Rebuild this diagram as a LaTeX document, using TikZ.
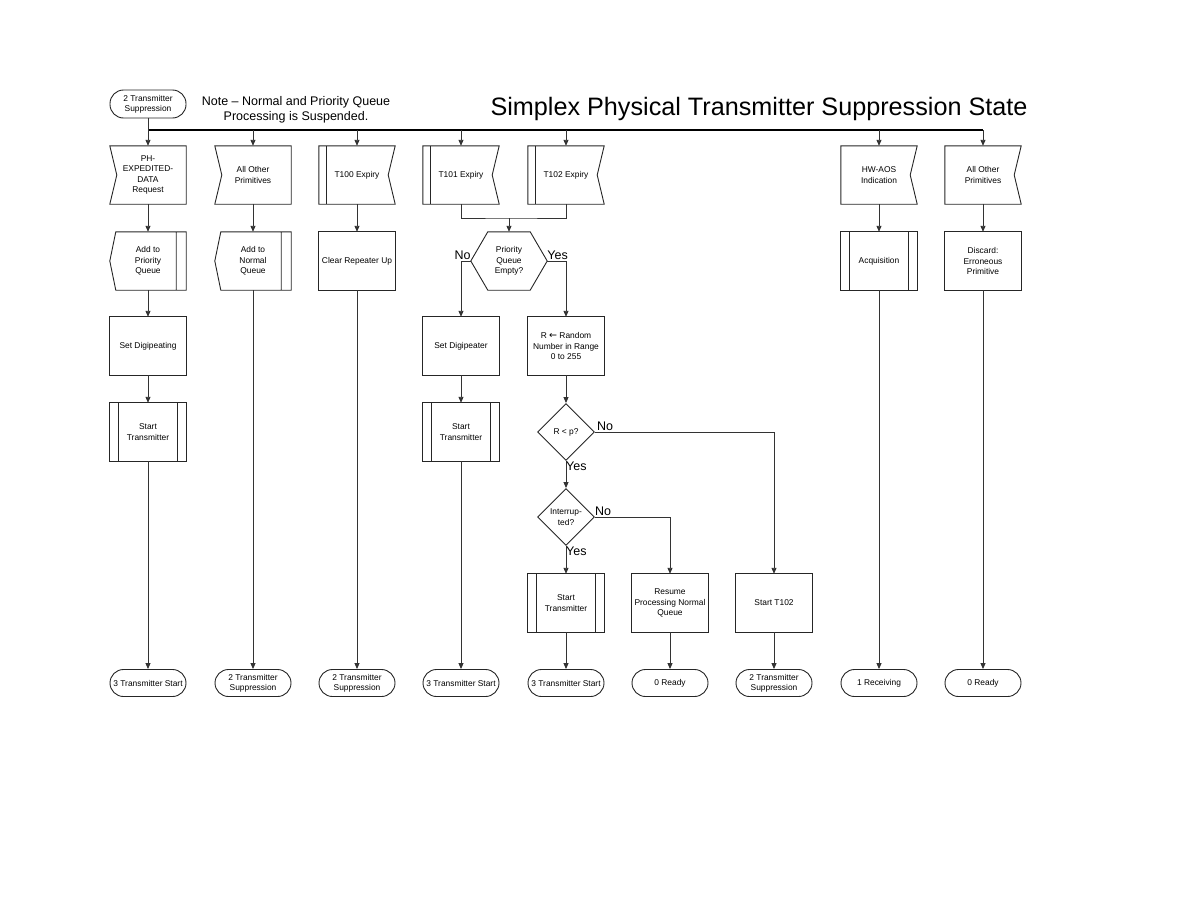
\documentclass[tikz,border=0pt]{standalone}
\usepackage{fontspec}
\setmainfont{Liberation Sans}
\newfontfamily\arrowfont{DejaVu Sans}
\usetikzlibrary{calc,arrows.meta,shapes.geometric}

\tikzset{
  base/.style={draw=none, minimum width=76pt, minimum height=58pt, inner sep=1pt,
    align=center, font=\fontsize{8.4}{10.5}\selectfont},
  outline/.style={draw=black!85, line width=0.9pt},
  term/.style={draw=black!85, line width=0.9pt, rounded corners=13.5pt,
    minimum width=76pt, minimum height=27pt, inner sep=1pt, align=center,
    font=\fontsize{8.4}{10}\selectfont},
  dec/.style={diamond, aspect=1, draw=black!85, line width=0.9pt,
    minimum width=57pt, minimum height=57pt, inner sep=0pt, align=center,
    font=\fontsize{8.4}{10.5}\selectfont},
  conn/.style={draw=black!80, line width=0.9pt},
  arr/.style={conn, -{Triangle[length=6pt,width=5pt]}},
  lab/.style={font=\fontsize{12.5}{14}\selectfont, inner sep=0pt},
  bus/.style={draw=black, line width=1.8pt},
}

\newcommand\procbox[1]{\draw[outline] (#1.north west) rectangle (#1.south east);}
\newcommand\prebox[1]{\draw[outline] (#1.north west) rectangle (#1.south east)
  ($(#1.north west)+(9,0)$) -- ($(#1.south west)+(9,0)$)
  ($(#1.north east)+(-9,0)$) -- ($(#1.south east)+(-9,0)$);}
\newcommand\inlbox[1]{\draw[outline] (#1.north west) -- (#1.north east) --
  (#1.south east) -- (#1.south west) -- ($(#1.west)+(7,0)$) -- cycle;}
\newcommand\inrbox[1]{\draw[outline] (#1.north west) -- (#1.north east) --
  ($(#1.east)+(-7,0)$) -- (#1.south east) -- (#1.south west) -- cycle;}
\newcommand\timerbox[1]{\inrbox{#1}\draw[outline] ($(#1.north west)+(8,0)$) --
  ($(#1.south west)+(8,0)$);}
\newcommand\queuebox[1]{\draw[outline] ($(#1.north west)+(6,0)$) -- (#1.north east) --
  (#1.south east) -- ($(#1.south west)+(6,0)$) -- (#1.west) -- cycle
  ($(#1.north east)+(-10,0)$) -- ($(#1.south east)+(-10,0)$);}
\newcommand\hexbox[1]{\draw[outline] (#1.west) -- ($(#1.north west)+(17,0)$) --
  ($(#1.north east)+(-17,0)$) -- (#1.east) -- ($(#1.south east)+(-17,0)$) --
  ($(#1.south west)+(17,0)$) -- cycle;}

\begin{document}
\begin{tikzpicture}[x=1pt,y=-1pt]
\useasboundingbox (0,0) rectangle (1188,918);

% header
\node[term, minimum height=28pt] (start) at (148,104) {2 Transmitter\\Suppression};
\node[font=\fontsize{12.5}{15}\selectfont, align=center] (note) at (296,110)
  {Note – Normal and Priority Queue\\Processing is Suspended.};
\node[font=\fontsize{25.2}{30}\selectfont, anchor=base, inner sep=0pt] (title) at (759,115)
  {Simplex Physical Transmitter Suppression State};

% row 1: inputs
\node[base] (e1) at (148,175) {PH-\\EXPEDITED-\\DATA\\Request}; \inlbox{e1}
\node[base] (e2) at (253,175) {All Other\\Primitives}; \inlbox{e2}
\node[base] (e3) at (357,175) {T100 Expiry}; \timerbox{e3}
\node[base] (e4) at (461,175) {T101 Expiry}; \timerbox{e4}
\node[base] (e5) at (566,175) {T102 Expiry}; \timerbox{e5}
\node[base] (e8) at (879,175) {HW-AOS\\Indication}; \inrbox{e8}
\node[base] (e9) at (983,175) {All Other\\Primitives}; \inrbox{e9}

% row 2
\node[base] (a1) at (148,261) {Add to\\Priority\\Queue}; \queuebox{a1}
\node[base] (a2) at (253,261) {Add to\\Normal\\Queue}; \queuebox{a2}
\node[base] (a3) at (357,261) {Clear Repeater Up}; \procbox{a3}
\node[base] (hex) at (509,261) {Priority\\Queue\\Empty?}; \hexbox{hex}
\node[base] (a8) at (879,261) {Acquisition}; \prebox{a8}
\node[base] (a9) at (983,261) {Discard:\\Erroneous\\Primitive}; \procbox{a9}

% row 3
\node[base] (s1) at (148,346) {Set Digipeating}; \procbox{s1}
\node[base] (s4) at (461,346) {Set Digipeater}; \procbox{s4}
\node[base] (s5) at (566,346) {R {\arrowfont\fontsize{9.5}{10}\selectfont ←} Random\\Number in Range\\0 to 255}; \procbox{s5}

% row 4
\node[base] (t1) at (148,432) {Start\\Transmitter}; \prebox{t1}
\node[base] (t4) at (461,432) {Start\\Transmitter}; \prebox{t4}
\node[dec] (d1) at (566,432) {R < p?};
\node[dec] (d2) at (566,517) {Interrup-\\ted?};

% row 5
\node[base] (t5) at (566,603) {Start\\Transmitter}; \prebox{t5}
\node[base] (r6) at (670,603) {Resume\\Processing Normal\\Queue}; \procbox{r6}
\node[base] (r7) at (774,603) {Start T102}; \procbox{r7}

% terminals
\node[term] (x1) at (148,683) {3 Transmitter Start};
\node[term] (x2) at (253,683) {2 Transmitter\\Suppression};
\node[term] (x3) at (357,683) {2 Transmitter\\Suppression};
\node[term] (x4) at (461,683) {3 Transmitter Start};
\node[term] (x5) at (566,683) {3 Transmitter Start};
\node[term] (x6) at (670,683) {0 Ready};
\node[term] (x7) at (774,683) {2 Transmitter\\Suppression};
\node[term] (x8) at (879,683) {1 Receiving};
\node[term] (x9) at (983,683) {0 Ready};

% bus
\coordinate (busL) at (148,130);
\coordinate (busR) at (983,130);
\draw[bus] (busL) -- (busR);
\draw[arr] (start.south) -- (e1.north);
\foreach \n in {e2,e3,e4,e5,e8,e9}{\draw[arr] (\n.north |- busL) -- (\n.north);}

% columns
\draw[arr] (e1) -- (a1); \draw[arr] (a1) -- (s1); \draw[arr] (s1) -- (t1); \draw[arr] (t1) -- (x1);
\draw[arr] (e2) -- (a2); \draw[arr] (a2) -- (x2);
\draw[arr] (e3) -- (a3); \draw[arr] (a3) -- (x3);
\coordinate (mrg) at (509,218);
\draw[conn] (e4.south) |- (mrg) -| (e5.south);
\draw[arr] (mrg) -- (hex.north);
\draw[arr] (hex.west) -| (s4.north);
\draw[arr] (hex.east) -| (s5.north);
\draw[arr] (s4) -- (t4); \draw[arr] (t4) -- (x4);
\draw[arr] (s5) -- (d1.north);
\draw[arr] (d1.south) -- (d2.north);
\draw[arr] (d1.east) -| (r7.north);
\draw[arr] (d2.south) -- (t5.north);
\draw[arr] (d2.east) -| (r6.north);
\draw[arr] (t5) -- (x5); \draw[arr] (r6) -- (x6); \draw[arr] (r7) -- (x7);
\draw[arr] (e8) -- (a8); \draw[arr] (a8) -- (x8);
\draw[arr] (e9) -- (a9); \draw[arr] (a9) -- (x9);

% branch labels
\node[lab, anchor=south east] (lNo1) at ($(hex.west)+(0,-1)$) {No};
\node[lab, anchor=south west] (lYes1) at ($(hex.east)+(0,-1)$) {Yes};
\node[lab, anchor=south west] (lNo2) at ($(d1.east)+(2,-1)$) {No};
\node[lab, anchor=north west] (lYes2) at ($(d1.south)+(0,1)$) {Yes};
\node[lab, anchor=south west] (lNo3) at ($(d2.east)+(0,-1)$) {No};
\node[lab, anchor=north west] (lYes3) at ($(d2.south)+(0,1)$) {Yes};
\end{tikzpicture}
\end{document}
